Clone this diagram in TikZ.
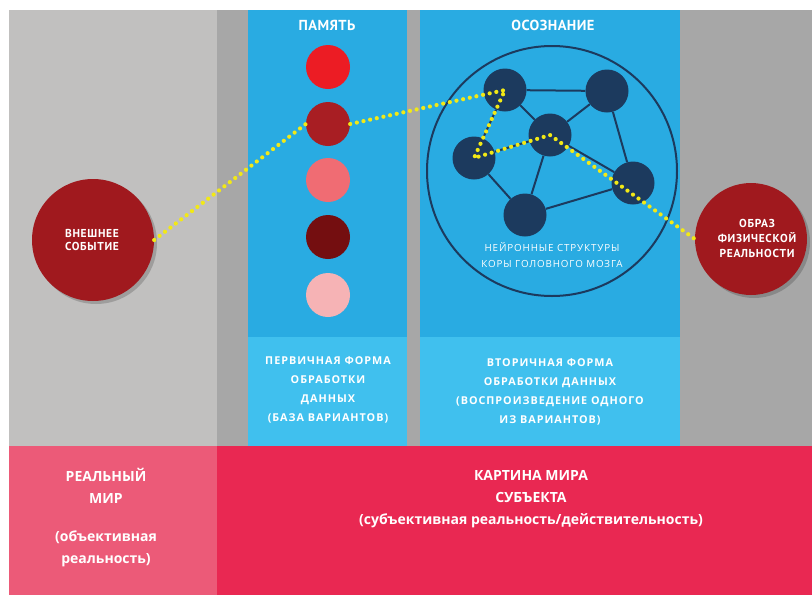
\documentclass[tikz,border=0pt]{standalone}
\usepackage{fontspec}
\setmainfont{PT Sans}
\newfontfamily\boxfont[LetterSpace=9]{Open Sans}
\newfontfamily\neurfont[LetterSpace=9]{Open Sans}
\newfontfamily\barfont{Open Sans}
\newfontfamily\circfont[LetterSpace=6]{PT Sans}
\newfontfamily\headfont[LetterSpace=3]{PT Sans}
\definecolor{lgrey}{HTML}{C1C0BF}
\definecolor{dgrey}{HTML}{A7A7A7}
\definecolor{blueA}{HTML}{29ABE2}
\definecolor{blueB}{HTML}{40C0EE}
\definecolor{pinkL}{HTML}{EC5A78}
\definecolor{crimson}{HTML}{E92852}
\definecolor{navy}{HTML}{1C3A5E}
\definecolor{darkred}{HTML}{A0191E}
\definecolor{memA}{HTML}{EC1C24}
\definecolor{memB}{HTML}{A81E23}
\definecolor{memC}{HTML}{F06C73}
\definecolor{memD}{HTML}{740E10}
\definecolor{memE}{HTML}{F6B3B5}
\definecolor{yel}{HTML}{F2E916}
\begin{document}
\begin{tikzpicture}[x=1pt,y=-1pt,
  mem/.style={circle,minimum size=44pt,inner sep=0pt},
  neuron/.style={circle,fill=navy,minimum size=43pt,inner sep=0pt},
  link/.style={draw=navy,line width=2pt},
  bigc/.style={circle,fill=darkred,minimum size=#1,inner sep=0pt},
  circtxt/.style={text=white,font=\circfont\bfseries\fontsize{11.5}{#1}\selectfont,align=center},
  head/.style={text=white,font=\headfont\bfseries\fontsize{14.5}{16}\selectfont},
  boxtxt/.style={text=white,font=\boxfont\bfseries\fontsize{10.8}{18.8}\selectfont,align=center},
  bartxt/.style={text=white,font=\barfont\bfseries\fontsize{14}{22}\selectfont,align=center},
  dots/.style={draw=yel,line width=4.2pt,line cap=round,dash pattern=on 0pt off 6.8pt}]
\useasboundingbox (0,0) rectangle (812,595);
\fill[white] (0,0) rectangle (812,595);
% background panels
\fill[lgrey] (9,10) rectangle (217,446);
\fill[dgrey] (217,10) rectangle (812,446);
\fill[blueA] (248,10) rectangle (407,337);
\fill[blueB] (248,337) rectangle (407,446);
\fill[blueA] (420,10) rectangle (680,337);
\fill[blueB] (420,337) rectangle (680,446);
\fill[pinkL] (9,446) rectangle (217,595);
\fill[crimson] (217,446) rectangle (812,595);
% headers
\node[head] (hmem) at (327,25) {ПАМЯТЬ};
\node[head] (hcon) at (553,25) {ОСОЗНАНИЕ};
% memory circles
\node[mem,fill=memA] (m1) at (328,67) {};
\node[mem,fill=memB] (m2) at (328,124) {};
\node[mem,fill=memC] (m3) at (328,180) {};
\node[mem,fill=memD] (m4) at (328,237) {};
\node[mem,fill=memE] (m5) at (328,295) {};
% brain circle
\node[circle,draw=navy,line width=2pt,minimum size=250pt,inner sep=0pt] (brain) at (552,171) {};
\node[neuron] (A) at (505,90) {};
\node[neuron] (B) at (607,91) {};
\node[neuron] (C) at (550,135) {};
\node[neuron] (D) at (474,158) {};
\node[neuron] (E) at (633,183) {};
\node[neuron] (F) at (525,215) {};
\draw[link] (A) -- (B);
\draw[link] (A) -- (C);
\draw[link] (A) -- (D);
\draw[link] (C) -- (B);
\draw[link] (C) -- (D);
\draw[link] (C) -- (F);
\draw[link] (C) -- (E);
\draw[link] (D) -- (F);
\draw[link] (B) -- (E);
\draw[link] (E) -- (F);
\node[text=white,font=\neurfont\fontsize{9.8}{16}\selectfont,align=center] (ntext) at (552,255) {НЕЙРОННЫЕ СТРУКТУРЫ\\КОРЫ ГОЛОВНОГО МОЗГА};
% side circles
\fill[black,opacity=0.18] (96,243) circle (61);
\node[bigc=122pt] (ext) at (93,240) {};
\node[circtxt=13.5] (extt) at (92,240) {ВНЕШНЕЕ\\СОБЫТИЕ};
\fill[black,opacity=0.18] (754,242) circle (56);
\node[bigc=112pt] (img) at (751,239) {};
\node[circtxt=15] (imgt) at (757,238) {ОБРАЗ\\ФИЗИЧЕСКОЙ\\РЕАЛЬНОСТИ};
% box texts
\node[boxtxt] (t1) at (328,390) {ПЕРВИЧНАЯ ФОРМА\\ОБРАБОТКИ\\ДАННЫХ\\(БАЗА ВАРИАНТОВ)};
\node[boxtxt] (t2) at (550,392) {ВТОРИЧНАЯ ФОРМА\\ОБРАБОТКИ ДАННЫХ\\(ВОСПРОИЗВЕДЕНИЕ ОДНОГО\\ИЗ ВАРИАНТОВ)};
% bottom bar texts
\node[bartxt] (real1) at (106,486) {РЕАЛЬНЫЙ\\МИР};
\node[bartxt] (real2) at (106,549) {(объективная\\реальность)};
\node[bartxt] (subj) at (531,499) {КАРТИНА МИРА\\СУБЪЕКТА\\(субъективная реальность/действительность)};
% yellow dotted path
\draw[dots] (ext.east) -- (m2.west);
\draw[dots] (m2.east) -- (A.center) -- (D.center) -- (C.center) -- (img.west);
\end{tikzpicture}
\end{document}
